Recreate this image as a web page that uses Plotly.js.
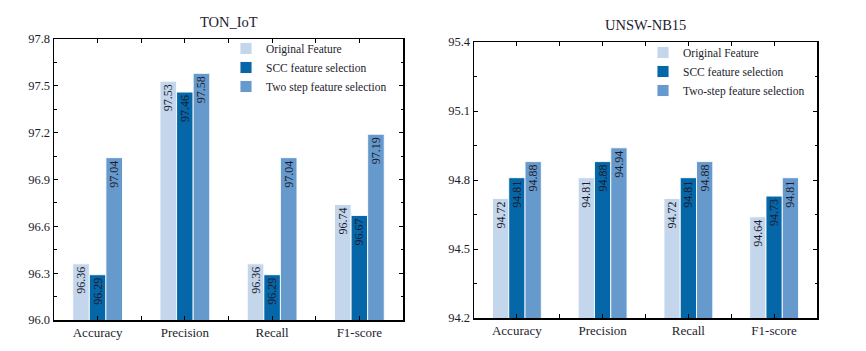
<!DOCTYPE html>
<html>
<head>
<meta charset="utf-8">
<script src="https://cdn.plot.ly/plotly-3.0.1.min.js"></script>
<style>
  html, body { margin: 0; padding: 0; background: #fff; }
  #chart { width: 866px; height: 351px; }
</style>
</head>
<body>
<div id="chart"></div>
<script>
// Metrics on the x axis
const categories = ['Accuracy', 'Precision', 'Recall', 'F1-score'];

// TON_IoT results (%)
const tonOriginal = [96.36, 97.53, 96.36, 96.74];
const tonScc = [96.29, 97.46, 96.29, 96.67];
const tonTwoStep = [97.04, 97.58, 97.04, 97.19];

// UNSW-NB15 results (%)
const unswOriginal = [94.72, 94.81, 94.72, 94.64];
const unswScc = [94.81, 94.88, 94.81, 94.73];
const unswTwoStep = [94.88, 94.94, 94.88, 94.81];

const tonNames = ['Original Feature', 'SCC feature selection', 'Two step feature selection'];
const unswNames = ['Original Feature', 'SCC feature selection', 'Two-step feature selection'];

const colors = ['#c3d6ec', '#0566a8', '#6699cc'];
const serif = 'Liberation Serif';
const inkColor = '#1c1c2e';

// numeric positions of the categories, so ticks can sit on centres and boundaries
const xPos = categories.map((c, i) => i);

function makeBar(values, name, color, xa, ya, legend) {
    return {
        type: 'bar',
        x: xPos,
        y: values,
        name: name,
        xaxis: xa,
        yaxis: ya,
        legend: legend,
        marker: { color: color, line: { color: 'rgba(255,255,255,0.9)', width: 1 } },
        texttemplate: '%{y:.2f}',
        textposition: 'inside',
        insidetextanchor: 'end',
        textangle: -90,
        constraintext: 'none',
        insidetextfont: { family: serif, size: 12, color: inkColor },
        hoverinfo: 'skip'
    };
}

const data = [
    makeBar(tonOriginal, tonNames[0], colors[0], 'x', 'y', 'legend'),
    makeBar(tonScc, tonNames[1], colors[1], 'x', 'y', 'legend'),
    makeBar(tonTwoStep, tonNames[2], colors[2], 'x', 'y', 'legend'),
    makeBar(unswOriginal, unswNames[0], colors[0], 'x2', 'y2', 'legend2'),
    makeBar(unswScc, unswNames[1], colors[1], 'x2', 'y2', 'legend2'),
    makeBar(unswTwoStep, unswNames[2], colors[2], 'x2', 'y2', 'legend2')
];

function xAxis(domain, anchor) {
    return {
        domain: domain,
        anchor: anchor,
        range: [-0.5, categories.length - 0.5],
        tickmode: 'array',
        tickvals: xPos,
        ticktext: categories,
        ticks: 'inside',
        ticklen: 4,
        tickwidth: 1,
        tickcolor: '#000',
        minor: {
            tickmode: 'array',
            tickvals: xPos.slice(1).map(v => v - 0.5),
            ticks: 'inside',
            ticklen: 4,
            tickwidth: 1,
            tickcolor: '#000'
        },
        showline: true,
        linecolor: '#000',
        linewidth: 1.5,
        mirror: 'allticks',
        showgrid: false,
        zeroline: false,
        tickfont: { family: serif, size: 13, color: inkColor }
    };
}

function yAxis(domain, anchor, lo, hi) {
    return {
        domain: domain,
        anchor: anchor,
        range: [lo, hi],
        tick0: lo,
        dtick: 0.3,
        tickformat: '.1f',
        ticks: 'inside',
        ticklen: 4,
        tickwidth: 1,
        tickcolor: '#000',
        minor: { dtick: 0.15, ticks: 'inside', ticklen: 2.5, tickwidth: 1, tickcolor: '#000' },
        showline: true,
        linecolor: '#000',
        linewidth: 1.5,
        mirror: 'allticks',
        showgrid: false,
        zeroline: false,
        tickfont: { family: serif, size: 12.5, color: inkColor }
    };
}

const legendFont = { family: serif, size: 11.5, color: inkColor };

const layout = {
    width: 866,
    height: 351,
    margin: { l: 0, r: 0, t: 0, b: 0 },
    paper_bgcolor: '#fff',
    plot_bgcolor: '#fff',
    barmode: 'group',
    bargap: 0.43,
    bargroupgap: 0,
    xaxis: xAxis([54 / 866, 403 / 866], 'y'),
    yaxis: yAxis([1 - 320 / 351, 1 - 39 / 351], 'x', 96.0, 97.8),
    xaxis2: xAxis([474 / 866, 817 / 866], 'y2'),
    yaxis2: yAxis([1 - 318 / 351, 1 - 42 / 351], 'x2', 94.2, 95.4),
    legend: {
        x: 226 / 866, y: 1 - 34 / 351, xanchor: 'left', yanchor: 'top',
        bgcolor: 'rgba(0,0,0,0)', font: legendFont, tracegroupgap: 0
    },
    legend2: {
        x: 643 / 866, y: 1 - 38 / 351, xanchor: 'left', yanchor: 'top',
        bgcolor: 'rgba(0,0,0,0)', font: legendFont, tracegroupgap: 0
    },
    annotations: [
        {
            text: 'TON_IoT', xref: 'paper', yref: 'paper',
            x: 228.5 / 866, y: 1 - 22 / 351, xanchor: 'center', yanchor: 'middle',
            showarrow: false, font: { family: serif, size: 14.5, color: inkColor }
        },
        {
            text: 'UNSW-NB15', xref: 'paper', yref: 'paper',
            x: 645.5 / 866, y: 1 - 25 / 351, xanchor: 'center', yanchor: 'middle',
            showarrow: false, font: { family: serif, size: 14.5, color: inkColor }
        }
    ]
};

Plotly.newPlot('chart', data, layout, { staticPlot: true, displayModeBar: false });
</script>
</body>
</html>
